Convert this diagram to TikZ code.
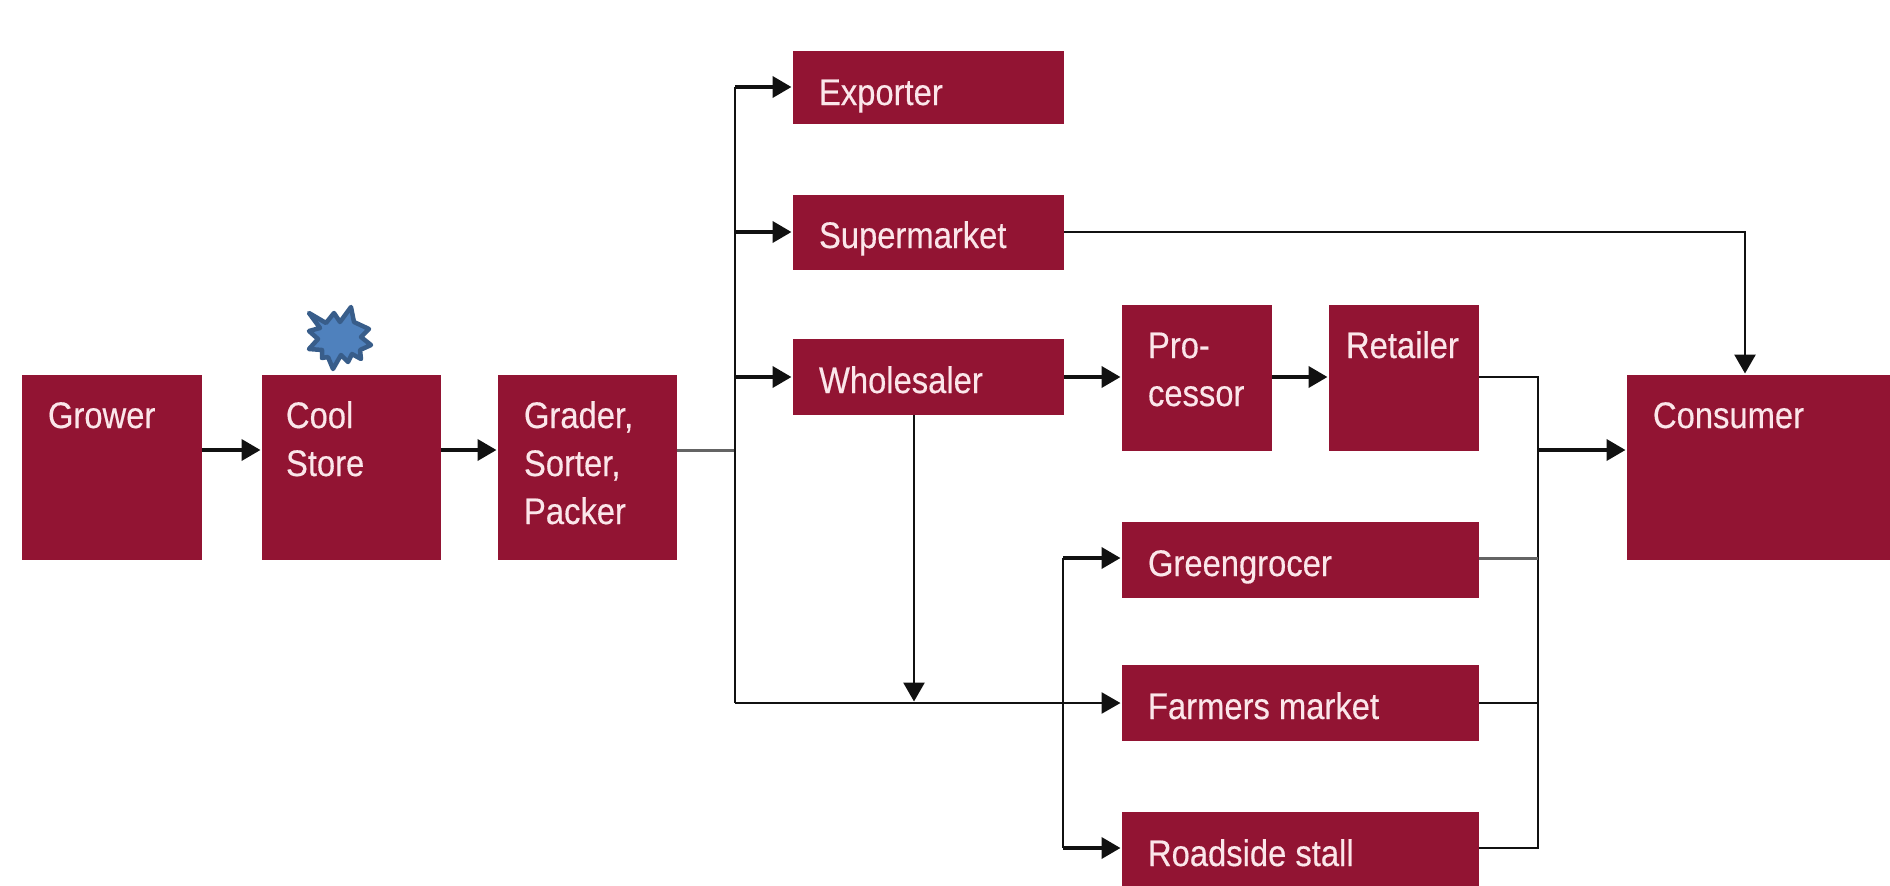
\documentclass[tikz,border=0pt]{standalone}
\usepackage{fontspec}
\setmainfont[FakeStretch=0.885,FakeBold=0.35]{Liberation Sans}
\usetikzlibrary{arrows.meta}
\definecolor{wine}{HTML}{921433}
\definecolor{boxtext}{HTML}{FBE6EA}
\definecolor{wire}{HTML}{111111}
\definecolor{starfill}{HTML}{4F81BD}
\definecolor{starline}{HTML}{385D8A}
\newlength\bxW
\newlength\bxH
\newlength\bxI
\setlength\bxI{26pt}
\newcommand\lyne[1]{\hbox to\bxW{\hskip\bxI\rule[-12pt]{0pt}{42pt}#1\hss}}
% name, x1, y1, x2, y2, first baseline, lines
\newcommand\bx[7]{%
  \pgfmathsetlength\bxW{#4-#2}%
  \pgfmathsetlength\bxH{#5-#3}%
  \node[boxn] (#1) at (#2,#3) {\vbox to\bxH{\baselineskip=48pt\lineskiplimit=-100pt\hsize=\bxW
    \kern\dimexpr#6pt-#3pt-30pt\relax #7\vss}};}
\tikzset{
  x=1pt,y=-1pt,
  boxn/.style={fill=wine,draw=none,inner sep=0pt,outer sep=0pt,anchor=north west,
    text=boxtext,font=\fontsize{37}{48}\selectfont},
  wirel/.style={draw=wire,line width=2.8pt},
  arrowl/.style={draw=wire,line width=3.8pt,-{Triangle[length=19pt,width=21pt]},shorten >=1.5pt},
  longarrow/.style={arrowl,line width=2.8pt},
  faint/.style={draw=wire!65,line width=3pt},
}
\begin{document}
\begin{tikzpicture}
\useasboundingbox (0,0) rectangle (1890,886);
\clip (0,0) rectangle (1890,886);
\bx{grower}{22}{375}{202}{560}{428}{\lyne{Grower}}
\setlength\bxI{24pt}
\bx{cool}{262}{375}{441}{560}{428}{\lyne{Cool}\lyne{Store}}
\setlength\bxI{26pt}
\bx{grader}{498}{375}{677}{560}{428}{\lyne{Grader,}\lyne{Sorter,}\lyne{Packer}}
\bx{exporter}{793}{51}{1064}{124}{105}{\lyne{Exporter}}
\bx{super}{793}{195}{1064}{270}{248}{\lyne{Supermarket}}
\bx{whole}{793}{339}{1064}{415}{393}{\lyne{Wholesaler}}
\bx{proc}{1122}{305}{1272}{451}{358}{\lyne{Pro-}\lyne{cessor}}
\setlength\bxI{17pt}
\bx{retail}{1329}{305}{1479}{451}{358}{\lyne{Retailer}}
\setlength\bxI{26pt}
\bx{green}{1122}{522}{1479}{598}{576}{\lyne{Greengrocer}}
\bx{farm}{1122}{665}{1479}{741}{719}{\lyne{Farmers market}}
\bx{road}{1122}{812}{1479}{886}{866}{\lyne{Roadside stall}}
\bx{consumer}{1627}{375}{1890}{560}{428}{\lyne{Consumer}}
% junction coordinates
\coordinate (mainy) at (0,450);
\coordinate (expy) at (0,87);
\coordinate (supy) at (0,232);
\coordinate (whoy) at (0,377);
\coordinate (busL) at (735,450);
\coordinate (busLtop) at (735,87);
\coordinate (busLbot) at (735,703);
\coordinate (drop) at (914,703);
\coordinate (busM) at (1063,703);
\coordinate (busMtop) at (1063,558);
\coordinate (busMbot) at (1063,848);
\coordinate (busR) at (1538,450);
\coordinate (busRtop) at (1538,377);
\coordinate (busRbot) at (1538,848);
\coordinate (coolx) at (1745,232);
% main line
\draw[arrowl] (grower.east |- mainy) -- (cool.west |- mainy);
\draw[arrowl] (cool.east |- mainy) -- (grader.west |- mainy);
\draw[faint] (grader.east |- mainy) -- (busL);
\draw[wirel,line cap=square] (busLtop) -- (busLbot);
\draw[arrowl] (busLtop) -- (exporter.west |- expy);
\draw[arrowl] (busLtop |- supy) -- (super.west |- supy);
\draw[arrowl] (busLtop |- whoy) -- (whole.west |- whoy);
\draw[arrowl] (whole.east |- whoy) -- (proc.west |- whoy);
\draw[arrowl] (proc.east |- whoy) -- (retail.west |- whoy);
\draw[longarrow] (super.east |- supy) -- (coolx) -- (coolx |- consumer.north);
\draw[longarrow] (drop |- whole.south) -- (drop);
\draw[longarrow] (busLbot) -- (farm.west |- busLbot);
% second bus
\draw[wirel,line cap=square] (busMtop) -- (busMbot);
\draw[arrowl] (busMtop) -- (green.west |- busMtop);
\draw[arrowl] (busMbot) -- (road.west |- busMbot);
% right bus
\draw[wirel] (retail.east |- whoy) -- (busRtop) -- (busRbot) -- (road.east |- busRbot);
\draw[faint] (green.east |- busMtop) -- (busR |- busMtop);
\draw[wirel] (farm.east |- busLbot) -- (busR |- busLbot);
\draw[arrowl] (busR) -- (consumer.west |- busR);
% cool-store burst
\draw[fill=starfill,draw=starline,line width=4.5pt,line join=round]
  (309,313) -- (326,323) -- (334,313) -- (340,322) -- (351,307) -- (354,322)
  -- (369,329) -- (361,337) -- (371,345) -- (360,350) -- (361,359) -- (352,354)
  -- (348,362) -- (341,355) -- (333,369) -- (328,357) -- (322,358) -- (322,350)
  -- (309,349) -- (318,339) -- (309,331) -- (320,328) -- cycle;
\end{tikzpicture}
\end{document}
